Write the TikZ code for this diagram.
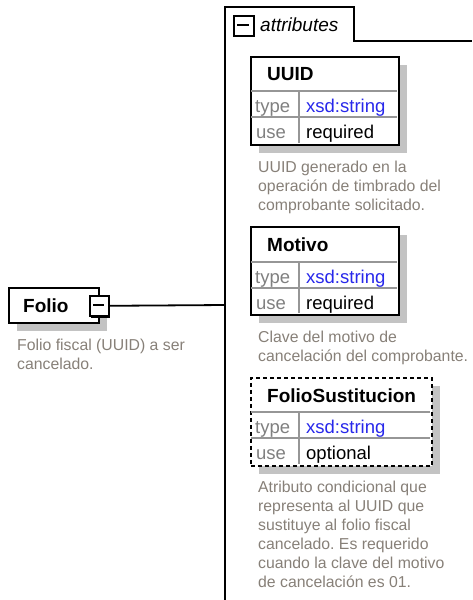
\documentclass[tikz,border=0pt]{standalone}
\usepackage{fontspec}
\setmainfont{Liberation Sans}
\usetikzlibrary{shadows}
\frenchspacing
\definecolor{descgray}{RGB}{135,128,120}
\definecolor{lblgray}{RGB}{128,128,128}
\definecolor{typeblue}{RGB}{40,40,235}
\definecolor{rulegray}{RGB}{150,150,150}
\definecolor{shadowgray}{RGB}{195,195,195}
\begin{document}
\begin{tikzpicture}[x=1pt,y=-1pt,
  attrbox/.style={draw=black, line width=1.8pt, fill=white, minimum width=148pt, minimum height=88pt, anchor=north west, inner sep=0pt,
    drop shadow={shadow xshift=8pt, shadow yshift=-8pt, fill=shadowgray, opacity=1}},
  elembox/.style={draw=black, line width=1.8pt, fill=white, minimum width=90pt, minimum height=35pt, anchor=north west, inner sep=0pt,
    drop shadow={shadow xshift=8pt, shadow yshift=-8pt, fill=shadowgray, opacity=1}},
  expbox/.style={draw=black, line width=1.6pt, fill=white, minimum width=19pt, minimum height=20pt, anchor=north west, inner sep=0pt},
  innerrule/.style={draw=rulegray, line width=1.3pt},
  grpline/.style={draw=black, line width=1.8pt},
  nametext/.style={font=\fontsize{19}{22}\selectfont\bfseries, inner sep=0pt, anchor=base west},
  lbltext/.style={font=\fontsize{18.5}{22}\selectfont, text=lblgray, inner sep=0pt, anchor=base west},
  valtext/.style={font=\fontsize{18.5}{22}\selectfont, text=black, inner sep=0pt, anchor=base west},
  typetext/.style={font=\fontsize{18.5}{22}\selectfont, text=typeblue, inner sep=0pt, anchor=base west},
  desctext/.style={font=\fontsize{15.8}{19}\selectfont, text=descgray, align=left, inner sep=0pt, anchor=base west}
]
\useasboundingbox (0,0) rectangle (472,600);

% attributes group outline
\draw[grpline] (225,600) -- (225,7) -- (354,7) -- (354,41) -- (472,41);
\node[expbox, minimum width=20pt, minimum height=20pt] (attrexp) at (233,15) {};
\draw[black, line width=1.6pt] (237,25) -- (249,25);
\node[font=\fontsize{19}{22}\selectfont\itshape, inner sep=0pt, anchor=base west] (attrlabel) at (260,31) {attributes};

% Folio element
\node[elembox] (folio) at (8,287) {};
\node[nametext] (folioname) at (23,312) {Folio};
\fill[black] (91,297) rectangle (110,318);
\node[expbox] (folioexp) at (89,295) {};
\draw[black, line width=1.6pt] (93,305) -- (104,305);
\coordinate (grpjoin) at (225,305);
\draw[grpline] (folioexp.east) -- (grpjoin);
\node[desctext] (foliodesc) at (17,369) {Folio fiscal (UUID) a ser\\cancelado.};

% UUID attribute
\node[attrbox] (uuid) at (250,56) {};
\draw[innerrule] (251,91) -- (397,91);
\draw[innerrule] (251,117) -- (397,117);
\draw[innerrule] (299,91) -- (299,143);
\node[nametext] (uuidname) at (267,80) {UUID};
\node[lbltext] (uuidtl) at (255,112) {type};
\node[typetext] (uuidtv) at (306,112) {xsd:string};
\node[lbltext] (uuidul) at (256,138) {use};
\node[valtext] (uuiduv) at (306,138) {required};
\node[desctext] (uuiddesc) at (258,210) {UUID generado en la\\operación de timbrado del\\comprobante solicitado.};

% Motivo attribute
\node[attrbox] (motivo) at (250,226) {};
\draw[innerrule] (251,262) -- (397,262);
\draw[innerrule] (251,288) -- (397,288);
\draw[innerrule] (299,262) -- (299,313);
\node[nametext] (motivoname) at (267,251) {Motivo};
\node[lbltext] (motivotl) at (255,283) {type};
\node[typetext] (motivotv) at (306,283) {xsd:string};
\node[lbltext] (motivoul) at (256,309) {use};
\node[valtext] (motivouv) at (306,309) {required};
\node[desctext] (motivodesc) at (258,361) {Clave del motivo de\\cancelación del comprobante.};

% FolioSustitucion attribute (optional, dashed)
\node[attrbox, minimum width=181pt, dash pattern=on 4pt off 3pt] (folsus) at (250,377) {};
\draw[innerrule] (251,412) -- (430,412);
\draw[innerrule] (251,438) -- (430,438);
\draw[innerrule] (299,412) -- (299,464);
\node[nametext] (folsusname) at (267,402) {FolioSustitucion};
\node[lbltext] (folsustl) at (255,433) {type};
\node[typetext] (folsustv) at (306,433) {xsd:string};
\node[lbltext] (folsusul) at (256,459) {use};
\node[valtext] (folsusuv) at (306,459) {optional};
\node[desctext] (folsusdesc) at (258,587) {Atributo condicional que\\representa al UUID que\\sustituye al folio fiscal\\cancelado. Es requerido\\cuando la clave del motivo\\de cancelación es 01.};
\end{tikzpicture}
\end{document}
